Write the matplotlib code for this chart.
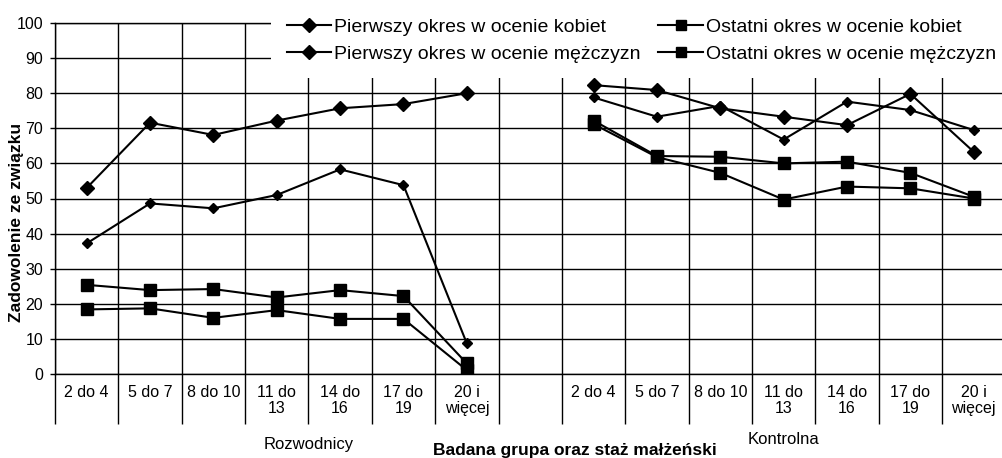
import matplotlib
matplotlib.use('Agg')
import matplotlib.pyplot as plt
import matplotlib.transforms as mtransforms
import numpy as np

plt.rcParams['font.family'] = ['Liberation Sans', 'DejaVu Sans']

staz = ['2 do 4', '5 do 7', '8 do 10', '11 do\n13', '14 do\n16', '17 do\n19', '20 i\nwięcej']
grupy = ['Rozwodnicy', 'Kontrolna']
serie = ['Pierwszy okres w ocenie kobiet', 'Pierwszy okres w ocenie mężczyzn',
         'Ostatni okres w ocenie kobiet', 'Ostatni okres w ocenie mężczyzn']

# najpierw Rozwodnicy, potem Kontrolna
pierwszy_k_rozw = [53.0, 71.6, 68.1, 72.2, 75.7, 76.9, 80.0]
pierwszy_k_kontr = [82.3, 80.9, 75.7, 73.3, 70.9, 79.8, 63.3]
pierwszy_m_rozw = [37.2, 48.6, 47.2, 51.0, 58.3, 53.8, 8.7]
pierwszy_m_kontr = [78.8, 73.3, 76.4, 66.8, 77.6, 75.2, 69.5]
ostatni_k_rozw = [25.4, 23.9, 24.2, 21.8, 23.9, 22.2, 3.0]
ostatni_k_kontr = [72.2, 62.1, 61.9, 60.0, 60.5, 57.3, 50.5]
ostatni_m_rozw = [18.4, 18.7, 16.0, 18.2, 15.7, 15.7, 1.1]
ostatni_m_kontr = [71.2, 61.8, 57.3, 49.7, 53.4, 52.9, 50.0]


def join(a, b):
    # pusta kategoria miedzy grupami
    return np.array(a + [np.nan] + b)


kategorie = staz + [''] + staz
dane = [join(pierwszy_k_rozw, pierwszy_k_kontr),
        join(pierwszy_m_rozw, pierwszy_m_kontr),
        join(ostatni_k_rozw, ostatni_k_kontr),
        join(ostatni_m_rozw, ostatni_m_kontr)]
markery = [('D', 9.5), ('D', 7.0), ('s', 8.5), ('s', 8.5)]

W, H = 1002, 458
fig = plt.figure(figsize=(W / 100, H / 100), dpi=100)
ax = fig.add_axes([55 / W, 84 / H, 950.4 / W, 351 / H])

x = np.arange(len(kategorie)) + 0.5
for y, lab, (m, ms) in zip(dane, serie, markery):
    ax.plot(x, y, color='black', lw=1.5, marker=m, ms=ms / 1.41 if m == 'D' else ms,
            label=lab, zorder=3)

ax.set_xlim(0, len(kategorie))
ax.set_ylim(0, 100)
ax.set_yticks(np.arange(0, 101, 10))
ax.set_xticks(x)
ax.set_xticklabels(kategorie, fontsize=11.5, linespacing=1.1)
ax.set_xticks(np.arange(len(kategorie) + 1), minor=True)
ax.tick_params(axis='x', which='major', length=0, pad=8)
ax.tick_params(axis='x', which='minor', length=36, width=1, direction='out', color='black')
ax.tick_params(axis='y', length=3.6, width=1, pad=5, labelsize=11.5)
ax.grid(axis='y', which='major', color='black', lw=1)
ax.grid(axis='x', which='minor', color='black', lw=1)
ax.spines['right'].set_visible(False)
for s in ['left', 'bottom', 'top']:
    ax.spines[s].set_linewidth(1)

# etykiety grup pod osia
trans = mtransforms.blended_transform_factory(ax.transData, fig.transFigure)
rozmiary = [len(staz) + 1, len(staz)]
start = 0
for g, n, yy in zip(grupy, rozmiary, [445, 440]):
    ax.text(start + n / 2, 1 - yy / H, g, transform=trans, ha='center', va='center', fontsize=12)
    start += n

fig.text(575 / W, 1 - 450 / H, 'Badana grupa oraz staż małżeński', ha='center', va='center',
         fontsize=12.5, fontweight='bold')
fig.text(17 / W, 1 - 222 / H, 'Zadowolenie ze związku', rotation=90, ha='center', va='center',
         fontsize=12.5, fontweight='bold')

leg = fig.legend(loc='upper left', bbox_to_anchor=(271 / W, 1 - 3 / H), ncol=2, fontsize=14,
                 frameon=True, fancybox=False, framealpha=1, edgecolor='none',
                 handlelength=2.3, handletextpad=0.15, columnspacing=0.9,
                 labelspacing=0.45, borderpad=0.8, borderaxespad=0)
for h in leg.legend_handles:
    h.set_markersize(7)

fig.savefig('out.png', dpi=100)
